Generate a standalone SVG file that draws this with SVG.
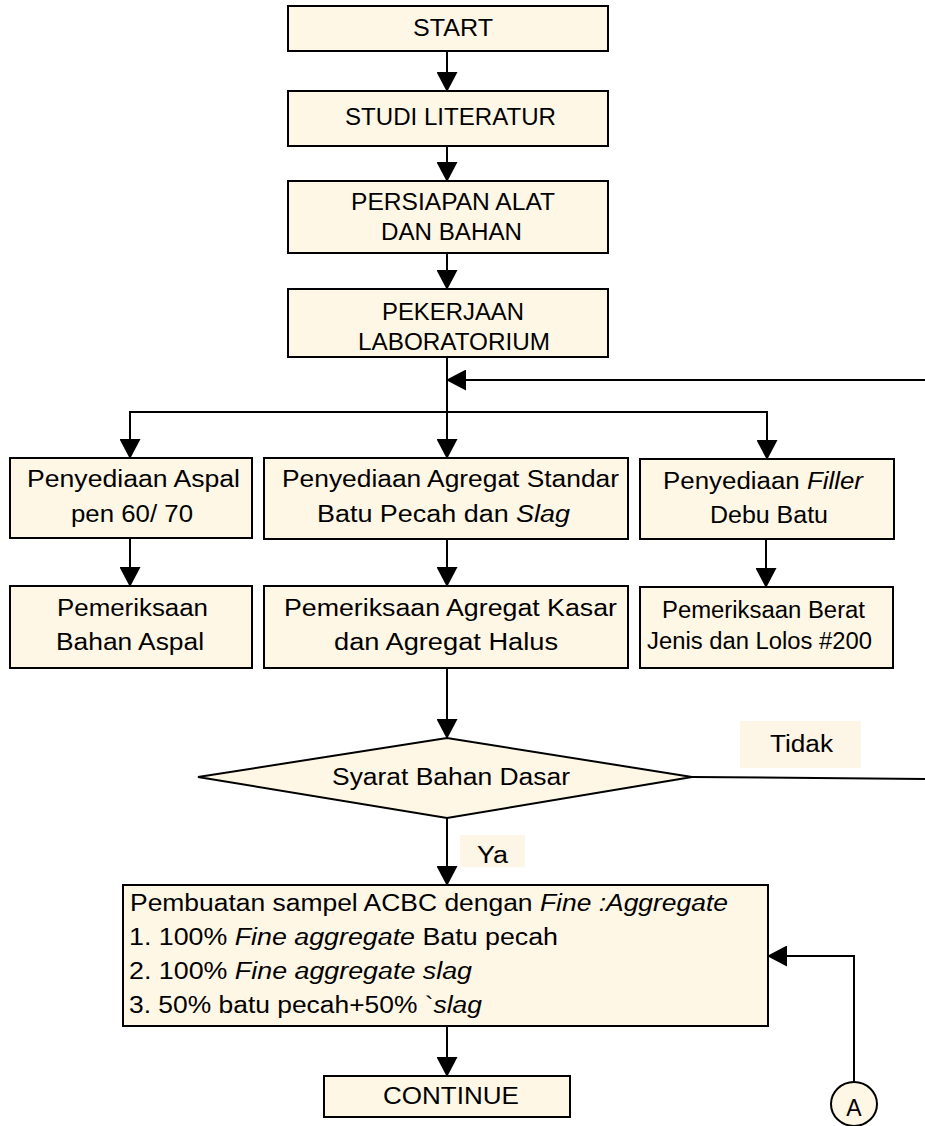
<svg xmlns="http://www.w3.org/2000/svg" width="925" height="1126" viewBox="0 0 925 1126">
<style>
.box{fill:#FFF7E6;stroke:#000;stroke-width:2}
.lbl{fill:#FDF5E6;stroke:none}
.t{font-family:"Liberation Sans",Arial,sans-serif;font-size:23px;fill:#000}
.i{font-style:italic}
.c{fill:none;stroke:#000;stroke-width:2}
</style>
<defs>
<marker id="ah" viewBox="0 0 20 21" markerWidth="20" markerHeight="21" refX="19" refY="10.5" orient="auto" markerUnits="userSpaceOnUse">
<path d="M0,0 L20,10.5 L0,21 z" fill="#000"/>
</marker>
</defs>
<rect width="925" height="1126" fill="#fff"/>
<g id="connectors">
<path class="c" d="M447,51 V91" marker-end="url(#ah)"/>
<path class="c" d="M447,146 V181" marker-end="url(#ah)"/>
<path class="c" d="M447,253 V289" marker-end="url(#ah)"/>
<path class="c" d="M447,357 V458" marker-end="url(#ah)"/>
<path class="c" d="M925,380 H447" marker-end="url(#ah)"/>
<path class="c" d="M130,458 V412 H767 V459" marker-end="url(#ah)"/>
<path class="c" d="M130,412 V458" marker-end="url(#ah)"/>
<path class="c" d="M130,538 V586" marker-end="url(#ah)"/>
<path class="c" d="M447,539 V586" marker-end="url(#ah)"/>
<path class="c" d="M766,539 V587" marker-end="url(#ah)"/>
<path class="c" d="M447,668 V738" marker-end="url(#ah)"/>
<path class="c" d="M692,777 L925,779"/>
<path class="c" d="M447,818 V885" marker-end="url(#ah)"/>
<path class="c" d="M447,1026 V1076" marker-end="url(#ah)"/>
<path class="c" d="M854,1082 V956 H768" marker-end="url(#ah)"/>
</g>
<g id="start"><rect class="box" x="288" y="6" width="320" height="45"/><text class="t" x="413" y="36" textLength="80" lengthAdjust="spacingAndGlyphs">START</text></g>
<g id="studi"><rect class="box" x="288" y="91" width="320" height="55"/><text class="t" x="345" y="125" textLength="211" lengthAdjust="spacingAndGlyphs">STUDI LITERATUR</text></g>
<g id="persiapan"><rect class="box" x="288" y="181" width="320" height="72"/><text class="t" x="351" y="210" textLength="204" lengthAdjust="spacingAndGlyphs">PERSIAPAN ALAT</text><text class="t" x="381" y="240" textLength="141" lengthAdjust="spacingAndGlyphs">DAN BAHAN</text></g>
<g id="pekerjaan"><rect class="box" x="288" y="289" width="320" height="68"/><text class="t" x="382" y="320" textLength="142" lengthAdjust="spacingAndGlyphs">PEKERJAAN</text><text class="t" x="358" y="350" textLength="192" lengthAdjust="spacingAndGlyphs">LABORATORIUM</text></g>
<g id="aspal"><rect class="box" x="10" y="458" width="242" height="80"/><text class="t" x="27" y="487" textLength="213" lengthAdjust="spacingAndGlyphs">Penyediaan Aspal</text><text class="t" x="71" y="522" textLength="122" lengthAdjust="spacingAndGlyphs">pen 60/ 70</text></g>
<g id="agregat"><rect class="box" x="264" y="458" width="364" height="81"/><text class="t" x="282" y="487" textLength="337" lengthAdjust="spacingAndGlyphs">Penyediaan Agregat Standar</text><text class="t" x="317" y="522" textLength="253" lengthAdjust="spacingAndGlyphs">Batu Pecah dan <tspan class="i">Slag</tspan></text></g>
<g id="filler"><rect class="box" x="640" y="459" width="254" height="80"/><text class="t" x="663" y="489" textLength="200" lengthAdjust="spacingAndGlyphs">Penyediaan <tspan class="i">Filler</tspan></text><text class="t" x="710" y="523" textLength="118" lengthAdjust="spacingAndGlyphs">Debu Batu</text></g>
<g id="periksa-aspal"><rect class="box" x="10" y="586" width="242" height="82"/><text class="t" x="57" y="616" textLength="151" lengthAdjust="spacingAndGlyphs">Pemeriksaan</text><text class="t" x="56" y="650" textLength="148" lengthAdjust="spacingAndGlyphs">Bahan Aspal</text></g>
<g id="periksa-agregat"><rect class="box" x="264" y="586" width="364" height="82"/><text class="t" x="284" y="616" textLength="333" lengthAdjust="spacingAndGlyphs">Pemeriksaan Agregat Kasar</text><text class="t" x="334" y="650" textLength="224" lengthAdjust="spacingAndGlyphs">dan Agregat Halus</text></g>
<g id="periksa-filler"><rect class="box" x="640" y="587" width="253" height="81"/><text class="t" x="662" y="618" textLength="203" lengthAdjust="spacingAndGlyphs">Pemeriksaan Berat</text><text class="t" x="647" y="649" textLength="225" lengthAdjust="spacingAndGlyphs">Jenis dan Lolos #200</text></g>
<g id="syarat"><polygon class="box" points="198,777 447,738 692,777 447,818"/><text class="t" x="332" y="785" textLength="238" lengthAdjust="spacingAndGlyphs">Syarat Bahan Dasar</text></g>
<g id="label-tidak"><rect class="lbl" x="740" y="721" width="121" height="47"/><text class="t" x="770" y="752" textLength="63" lengthAdjust="spacingAndGlyphs">Tidak</text></g>
<g id="label-ya"><rect class="lbl" x="460" y="835" width="65" height="32"/><text class="t" x="477" y="863" textLength="31" lengthAdjust="spacingAndGlyphs">Ya</text></g>
<g id="pembuatan"><rect class="box" x="123" y="885" width="645" height="141"/>
<text class="t" x="130" y="911" textLength="598" lengthAdjust="spacingAndGlyphs">Pembuatan sampel ACBC dengan <tspan class="i">Fine :Aggregate</tspan></text>
<text class="t" x="129" y="945" textLength="429" lengthAdjust="spacingAndGlyphs">1. 100% <tspan class="i">Fine aggregate</tspan> Batu pecah</text>
<text class="t" x="129" y="979" textLength="343" lengthAdjust="spacingAndGlyphs">2. 100% <tspan class="i">Fine aggregate slag</tspan></text>
<text class="t" x="129" y="1013" textLength="353" lengthAdjust="spacingAndGlyphs">3. 50% batu pecah+50% `<tspan class="i">slag</tspan></text>
</g>
<g id="continue"><rect class="box" x="324" y="1076" width="246" height="41"/><text class="t" x="383" y="1104" textLength="136" lengthAdjust="spacingAndGlyphs">CONTINUE</text></g>
<g id="connector-a"><ellipse class="box" cx="854" cy="1104" rx="23" ry="22"/><text class="t" x="854" y="1116" text-anchor="middle">A</text></g>
</svg>
